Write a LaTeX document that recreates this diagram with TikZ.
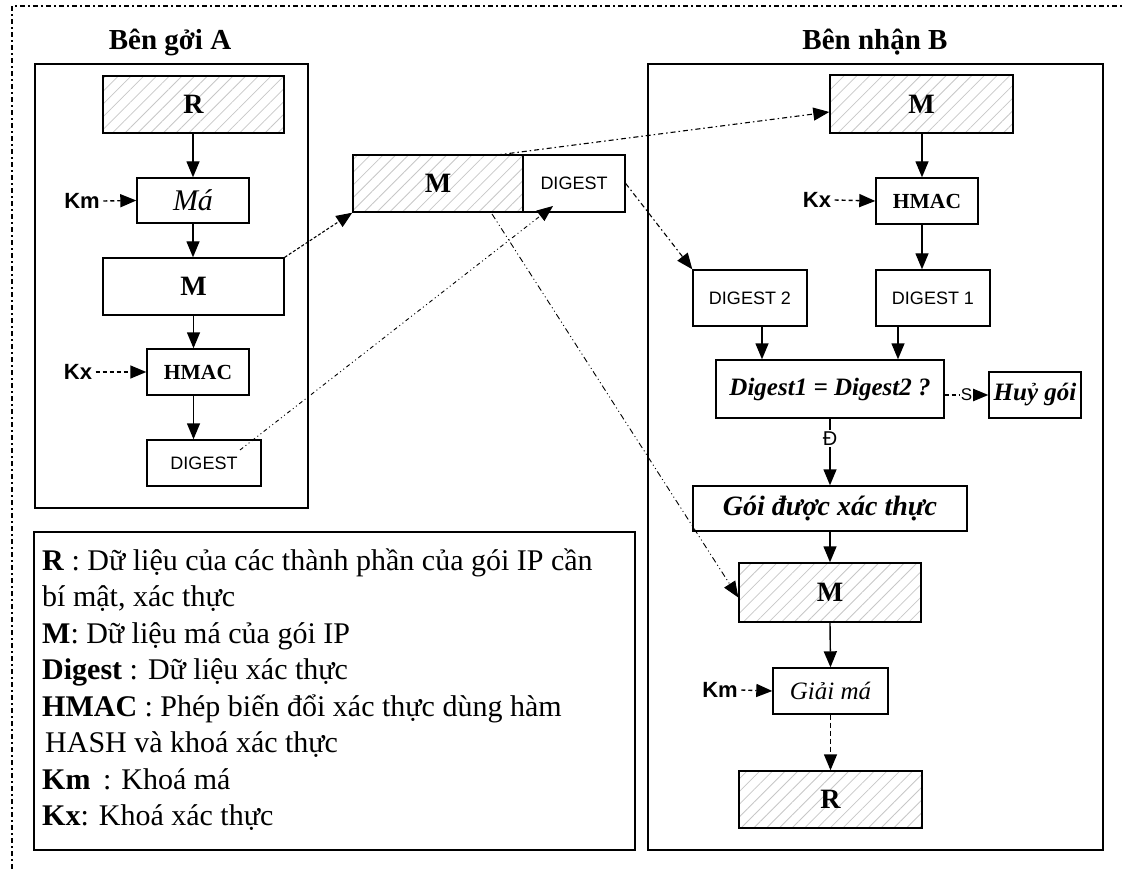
\documentclass[tikz,border=0pt]{standalone}
\usepackage{fontspec}
\setmainfont{Liberation Serif}
\setsansfont{Liberation Sans}
\usetikzlibrary{arrows.meta,patterns.meta,calc}
\begin{document}
\begin{tikzpicture}[x=1pt,y=-1pt,
  box/.style={draw,line width=1.4pt,inner sep=0pt,align=center},
  hatch/.style={box,pattern={Lines[angle=45,distance=9pt,line width=0.8pt]},pattern color=black!22},
  frame/.style={draw,line width=1.4pt},
  bigtxt/.style={font=\fontsize{28}{30}\selectfont\bfseries},
  sanstxt/.style={font=\fontsize{18}{20}\selectfont\sffamily},
  keytxt/.style={font=\fontsize{22}{24}\selectfont\sffamily\bfseries},
  bitxt/.style={font=\fontsize{25}{28}\selectfont\bfseries\itshape},
  legtxt/.style={font=\fontsize{30}{32}\selectfont,anchor=base west,inner sep=0pt},
  titletxt/.style={font=\fontsize{29}{32}\selectfont\bfseries},
  arr/.style={line width=1.4pt,-{Triangle[length=16pt,width=13pt]}},
  keyarr/.style={arr,dash pattern=on 4pt off 3pt},
  link/.style={line width=1.1pt,-{Triangle[length=16pt,width=13pt]}}
]
\useasboundingbox (0,0) rectangle (1125,869);

% outer dashed frame (top and left edges)
\draw[line width=1.3pt,dash pattern=on 5pt off 3pt on 2pt off 3pt] (12,869) -- (12,6) -- (1125,6);

% ---------- sender A ----------
\node[titletxt] (tA) at (170,42) {Bên gởi A};
\draw[frame] (35,64) rectangle (308,508);
\node[hatch,bigtxt,minimum width=181pt,minimum height=57pt] (R1) at (193.5,104.5) {R};
\node[box,font=\fontsize{30}{32}\selectfont\itshape,minimum width=112pt,minimum height=45pt] (Ma) at (193,200.5) {Má};
\node[box,bigtxt,minimum width=181pt,minimum height=57pt] (M1) at (193.5,286.5) {M};
\node[box,font=\fontsize{21.5}{24}\selectfont\bfseries,minimum width=102pt,minimum height=46pt] (H1) at (198,372) {HMAC};
\node[box,sanstxt,minimum width=114pt,minimum height=46pt] (D1) at (204,463) {DIGEST};
\node[keytxt] (Km1) at (82,201) {Km};
\node[keytxt] (Kx1) at (78,372) {Kx};

\draw[arr] (R1.south -| Ma.north) -- (Ma.north);
\draw[arr] (Ma.south) -- (Ma.south |- M1.north);
\draw[arr] (M1.south) -- (M1.south |- H1.north);
\draw[arr] (H1.south -| M1.south) -- (M1.south |- D1.north);
\draw[keyarr] (Km1.east) -- (Ma.west);
\draw[keyarr] (Kx1.east) -- (H1.west);

% ---------- packet in transit ----------
\node[hatch,bigtxt,minimum width=170pt,minimum height=57pt] (PM) at (438,183.5) {M};
\node[box,sanstxt,minimum width=102pt,minimum height=57pt] (PD) at (574,183.5) {DIGEST};

% ---------- receiver B ----------
\node[titletxt] (tB) at (875,42) {Bên nhận B};
\draw[frame] (648,64) rectangle (1103,850);
\node[hatch,bigtxt,minimum width=183pt,minimum height=58pt] (M2) at (921.5,104) {M};
\node[box,font=\fontsize{21.5}{24}\selectfont\bfseries,minimum width=102pt,minimum height=46pt] (H2) at (927,201) {HMAC};
\node[keytxt] (Kx2) at (817,200) {Kx};
\node[box,sanstxt,minimum width=114pt,minimum height=56pt] (DG2) at (750,298) {DIGEST 2};
\node[box,sanstxt,minimum width=114pt,minimum height=56pt] (DG1) at (933,298) {DIGEST 1};
\node[box,bitxt,minimum width=228pt,minimum height=58pt] (CMP) at (830,389) {Digest1 = Digest2 ?};
\node[box,bitxt,minimum width=92pt,minimum height=46pt] (HUY) at (1035,395) {Huỷ gói};
\node[box,font=\fontsize{28}{30}\selectfont\bfseries\itshape,minimum width=274pt,minimum height=45pt] (GOI) at (830,508.5) {Gói được xác thực};
\node[hatch,bigtxt,minimum width=182pt,minimum height=59pt] (M3) at (830,592.5) {M};
\node[box,font=\fontsize{25}{28}\selectfont\itshape,minimum width=115pt,minimum height=46pt] (GM) at (830.5,691) {Giải má};
\node[keytxt] (Km2) at (720,690) {Km};
\node[hatch,bigtxt,minimum width=183pt,minimum height=57pt] (R2) at (830.5,799.5) {R};

\draw[arr] (M2.south -| 922,0) -- (922,0 |- H2.north);
\draw[arr] (H2.south -| 922,0) -- (922,0 |- DG1.north);
\draw[keyarr] (Kx2.east) -- (H2.west);
\draw[arr] (DG2.south -| 762,0) -- (762,0 |- CMP.north);
\draw[arr] (DG1.south -| 898,0) -- (898,0 |- CMP.north);
\draw[keyarr] (CMP.east |- HUY.west) -- node[pos=0.5,fill=white,inner sep=1pt,font=\fontsize{17}{18}\selectfont\sffamily] {S} (HUY.west);
\draw[arr] (CMP.south) -- node[pos=0.3,fill=white,inner sep=1.5pt,font=\fontsize{20}{22}\selectfont\sffamily] {Đ} (GOI.north);
\draw[arr] (GOI.south) -- (M3.north);
\draw[arr] (M3.south) -- (GM.north);
\draw[arr,dash pattern=on 5pt off 3pt] (GM.south) -- (R2.north);
\draw[keyarr] (Km2.east) -- (GM.west);

% ---------- transfer links ----------
\coordinate (d1out) at (240,450);
\coordinate (pdin) at (553,206);
\coordinate (pmtop) at (497,155);
\coordinate (pmbot) at (492,214);
\draw[link,dash pattern=on 3pt off 2pt] (M1.north east) -- (PM.south west);
\draw[link,line width=0.9pt,dash pattern=on 4pt off 3pt on 1pt off 3pt on 1pt off 3pt] (d1out) -- (pdin);
\draw[link,dash pattern=on 5pt off 3pt on 1.5pt off 3pt] (pmtop) -- ($(M2.west)+(0,8)$);
\draw[link,dash pattern=on 5pt off 3pt on 1.5pt off 3pt] (PD.east) -- (DG2.north west);
\draw[link,line width=0.9pt,dash pattern=on 6pt off 3pt on 1pt off 3pt on 1pt off 3pt] (pmbot) -- ($(M3.west)+(0,5)$);

% ---------- legend ----------
\draw[frame] (34,532) rectangle (635,850);
\node[legtxt] (L1) at (42,570) {\textbf{R} : Dữ liệu của các thành phần của gói IP cần};
\node[legtxt] (L2) at (42,606.5) {bí mật, xác thực};
\node[legtxt] (L3) at (42,643) {\textbf{M}: Dữ liệu má của gói IP};
\node[legtxt] (L4) at (42,679.5) {\textbf{Digest} : Dữ liệu xác thực};
\node[legtxt] (L5) at (42,716) {\textbf{HMAC} : Phép biến đổi xác thực dùng hàm};
\node[legtxt] (L6) at (45,752.5) {HASH và khoá xác thực};
\node[legtxt] (L7) at (42,789) {\textbf{Km} \,: Khoá má};
\node[legtxt] (L8) at (42,825.5) {\textbf{Kx}: Khoá xác thực};
\end{tikzpicture}
\end{document}
